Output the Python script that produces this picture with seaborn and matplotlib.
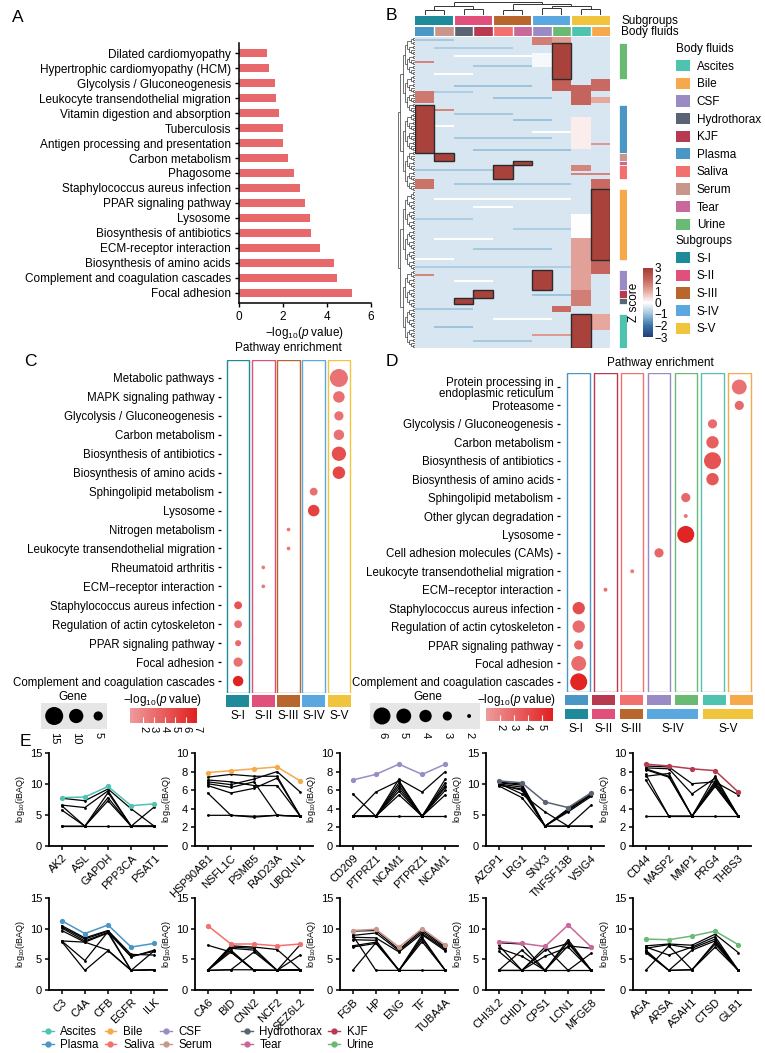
import numpy as np
import pandas as pd
import matplotlib
matplotlib.use("Agg")
import matplotlib.pyplot as plt
import seaborn as sns
from matplotlib.colors import LinearSegmentedColormap, ListedColormap, Normalize
from matplotlib.patches import Rectangle, Patch
from matplotlib.lines import Line2D
from matplotlib.collections import LineCollection
import matplotlib.cm as cm

plt.rcParams['font.family'] = ['Liberation Sans', 'DejaVu Sans']
plt.rcParams['mathtext.fontset'] = 'custom'
plt.rcParams['mathtext.rm'] = 'Liberation Sans'
plt.rcParams['mathtext.it'] = 'Liberation Sans:italic'
plt.rcParams['axes.unicode_minus'] = True

# ------------------------------------------------------------------ data
A_terms = ['Dilated cardiomyopathy', 'Hypertrophic cardiomyopathy (HCM)',
           'Glycolysis / Gluconeogenesis', 'Leukocyte transendothelial migration',
           'Vitamin digestion and absorption', 'Tuberculosis',
           'Antigen processing and presentation', 'Carbon metabolism', 'Phagosome',
           'Staphylococcus aureus infection', 'PPAR signaling pathway', 'Lysosome',
           'Biosynthesis of antibiotics', 'ECM-receptor interaction',
           'Biosynthesis of amino acids', 'Complement and coagulation cascades',
           'Focal adhesion']
A_vals = [1.27, 1.37, 1.64, 1.68, 1.80, 2.00, 2.00, 2.23, 2.49, 2.75, 2.98, 3.21,
          3.28, 3.66, 4.31, 4.46, 5.12]

fluids = ['Ascites', 'Bile', 'CSF', 'Hydrothorax', 'KJF', 'Plasma', 'Saliva',
          'Serum', 'Tear', 'Urine']
fluid_colors = ['#4DC3B0', '#F5A94B', '#9B8BC4', '#5A6473', '#B73A50', '#4A96C4',
                '#F2706E', '#C9968B', '#C9689A', '#6BBA74']
subgroups = ['S-I', 'S-II', 'S-III', 'S-IV', 'S-V']
sub_colors = ['#1F8A99', '#E0507A', '#B8652E', '#5BA8E0', '#F0C43C']

B_col_fluids = ['Plasma', 'Serum', 'Hydrothorax', 'KJF', 'Saliva', 'Tear', 'CSF',
                'Urine', 'Ascites', 'Bile']
B_col_subs = ['S-I', 'S-I', 'S-II', 'S-II', 'S-III', 'S-III', 'S-IV', 'S-IV',
              'S-V', 'S-V']
B_nrows = 155
B_background = -0.42
# fluid-specific protein blocks: (column, first row, end row)
B_marked = [(7, 3, 21), (0, 34, 58), (1, 58, 62), (5, 62, 64), (4, 64, 71),
            (9, 76, 111), (6, 116, 126), (3, 126, 130), (2, 130, 133), (8, 138, 155)]
B_marked_z = 2.8
# other coloured regions: (column, first row, end row, z)
B_regions = [(6, 0, 4, 1.6), (7, 0, 3, 1.2), (7, 21, 27, 2.1), (9, 21, 27, 1.9),
             (8, 24, 34, 2.0), (0, 27, 33, 1.7), (9, 30, 33, 1.0), (8, 40, 56, 0.2),
             (0, 71, 76, 1.8), (9, 71, 76, 1.9), (8, 64, 67, 1.5), (8, 88, 100, 0.0),
             (8, 100, 126, 1.1), (9, 111, 118, 2.0), (8, 126, 134, 1.6),
             (7, 134, 137, 1.9), (9, 138, 146, 1.0), (6, 8, 15, -0.1)]
# single-row stripes: (row, first column, end column, z)
B_stripes = [(1, 0, 2, -0.9), (5, 1, 5, -0.8), (9, 2, 6, 0.0), (12, 0, 1, 1.5),
             (14, 3, 7, -0.9), (18, 1, 3, 0.0), (24, 2, 6, -1.0), (27, 1, 3, -0.8),
             (30, 4, 7, -1.0), (36, 1, 2, 1.5), (38, 2, 5, -0.9), (41, 5, 7, -1.0),
             (44, 1, 2, 0.0), (47, 6, 8, 0.0), (50, 2, 7, -0.9), (53, 8, 10, 1.2),
             (56, 3, 8, -1.0), (66, 0, 4, -0.9), (68, 8, 10, 1.5), (73, 2, 8, -0.9),
             (80, 1, 8, 0.0), (84, 3, 5, 0.0), (90, 0, 3, -0.8), (95, 5, 8, -0.8),
             (100, 1, 4, 0.0), (105, 3, 7, -0.9), (110, 0, 2, 0.0), (114, 0, 9, -0.8),
             (118, 0, 1, 1.5), (121, 2, 4, 0.0), (128, 6, 8, -1.0), (135, 0, 3, -0.9),
             (140, 4, 7, 0.0), (144, 1, 3, -1.0), (148, 6, 8, 1.2), (151, 3, 6, -0.9)]
# column dendrogram merges (scipy style: leaves 0-9, new nodes 10...)
B_col_link = [(0, 1, 0.35), (2, 3, 0.45), (10, 11, 0.7), (4, 5, 0.4), (6, 7, 0.55),
              (8, 9, 0.45), (14, 15, 0.65), (13, 16, 0.8), (12, 17, 1.0)]

C_terms = ['Metabolic pathways', 'MAPK signaling pathway', 'Glycolysis / Gluconeogenesis',
           'Carbon metabolism', 'Biosynthesis of antibiotics', 'Biosynthesis of amino acids',
           'Sphingolipid metabolism', 'Lysosome', 'Nitrogen metabolism',
           'Leukocyte transendothelial migration', 'Rheumatoid arthritis',
           'ECM\u2212receptor interaction', 'Staphylococcus aureus infection',
           'Regulation of actin cytoskeleton', 'PPAR signaling pathway', 'Focal adhesion',
           'Complement and coagulation cascades']
C_group = ['S-V', 'S-V', 'S-V', 'S-V', 'S-V', 'S-V', 'S-IV', 'S-IV', 'S-III', 'S-III',
           'S-II', 'S-II', 'S-I', 'S-I', 'S-I', 'S-I', 'S-I']
C_genes = [15, 7, 5, 6, 10, 8, 4, 7, 2, 2, 2, 2, 4, 4, 3, 5, 6]
C_logp = [2.8, 3.0, 2.9, 2.9, 4.6, 5.0, 3.0, 5.3, 2.6, 2.6, 2.5, 2.5, 4.3, 3.0, 3.2, 2.9, 6.9]

D_terms = ['Protein processing in\nendoplasmic reticulum', 'Proteasome',
           'Glycolysis / Gluconeogenesis', 'Carbon metabolism', 'Biosynthesis of antibiotics',
           'Biosynthesis of amino acids', 'Sphingolipid metabolism', 'Other glycan degradation',
           'Lysosome', 'Cell adhesion molecules (CAMs)', 'Leukocyte transendothelial migration',
           'ECM\u2212receptor interaction', 'Staphylococcus aureus infection',
           'Regulation of actin cytoskeleton', 'PPAR signaling pathway', 'Focal adhesion',
           'Complement and coagulation cascades']
D_col_fluids = ['Plasma', 'KJF', 'Saliva', 'CSF', 'Urine', 'Ascites', 'Bile']
D_col_subs = ['S-I', 'S-II', 'S-III', 'S-IV', 'S-IV', 'S-V', 'S-V']
D_fluid = ['Bile', 'Bile', 'Ascites', 'Ascites', 'Ascites', 'Ascites', 'Urine', 'Urine',
           'Urine', 'CSF', 'Saliva', 'KJF', 'Plasma', 'Plasma', 'Plasma', 'Plasma', 'Plasma']
D_genes = [5, 3, 3, 4, 6, 4, 3, 2, 6, 3, 2, 2, 4, 4, 3, 5, 6]
D_logp = [2.6, 3.0, 2.8, 3.3, 3.8, 3.6, 3.0, 2.5, 5.6, 3.0, 2.2, 2.6, 4.0, 2.8, 3.0, 2.8, 5.6]

E_genes = [['AK2', 'ASL', 'GAPDH', 'PPP3CA', 'PSAT1'],
           ['HSP90AB1', 'NSFL1C', 'PSMB5', 'RAD23A', 'UBQLN1'],
           ['CD209', 'PTPRZ1', 'NCAM1', 'PTPRZ1', 'NCAM1'],
           ['AZGP1', 'LRG1', 'SNX3', 'TNFSF13B', 'VSIG4'],
           ['CD44', 'MASP2', 'MMP1', 'PRG4', 'THBS3'],
           ['C3', 'C4A', 'CFB', 'EGFR', 'ILK'],
           ['CA6', 'BID', 'CNN2', 'NCF2', 'SEZ6L2'],
           ['FGB', 'HP', 'ENG', 'TF', 'TUBA4A'],
           ['CHI3L2', 'CHID1', 'CPS1', 'LCN1', 'MFGE8'],
           ['AGA', 'ARSA', 'ASAH1', 'CTSD', 'GLB1']]
E_fluid = ['Ascites', 'Bile', 'CSF', 'Hydrothorax', 'KJF', 'Plasma', 'Saliva', 'Serum',
           'Tear', 'Urine']
E_ymax = [15, 10, 10, 15, 10, 15, 15, 15, 15, 15]
E_main = [[7.8, 7.9, 9.6, 6.5, 6.8],
          [7.9, 8.1, 8.3, 8.5, 7.0],
          [7.1, 7.7, 8.8, 7.7, 8.8],
          [10.5, 10.2, 7.1, 6.2, 8.6],
          [8.8, 8.6, 8.3, 8.1, 5.8],
          [11.3, 9.2, 10.6, 7.0, 7.6],
          [10.5, 7.5, 7.5, 7.2, 7.5],
          [9.7, 9.9, 7.0, 10.0, 7.3],
          [7.9, 7.6, 7.1, 10.6, 7.0],
          [8.3, 8.2, 8.8, 9.6, 7.4]]
E_other = [
    [[7.7, 7.3, 9.2, 6.0, 3.2], [6.6, 6.2, 8.9, 3.2, 6.3], [6.5, 3.2, 8.6, 3.2, 3.2],
     [5.8, 3.2, 7.8, 3.2, 3.2], [3.2, 3.2, 7.3, 3.2, 3.2], [3.2, 3.2, 3.2, 3.2, 3.2]],
    [[7.4, 7.7, 7.5, 7.5, 3.2], [7.1, 6.9, 6.5, 6.5, 3.2], [6.9, 6.6, 7.2, 8.0, 5.8],
     [6.7, 6.3, 6.9, 3.3, 3.2], [6.5, 5.7, 6.2, 7.3, 3.2], [5.7, 3.3, 3.2, 3.3, 3.2],
     [3.3, 3.3, 3.1, 3.3, 3.2]],
    [[5.6, 3.2, 7.2, 5.8, 8.0], [3.2, 5.8, 7.0, 3.2, 7.2], [3.2, 3.2, 6.8, 3.2, 6.8],
     [3.2, 3.2, 6.5, 3.2, 6.5], [3.2, 3.2, 6.2, 3.2, 6.3], [3.2, 3.2, 5.9, 3.2, 6.0],
     [3.2, 3.2, 5.5, 3.2, 5.5], [3.2, 3.2, 3.2, 3.2, 3.2]],
    [[10.3, 10.0, 3.2, 6.0, 8.4], [10.2, 9.8, 3.2, 5.8, 8.2], [10.0, 9.5, 3.2, 5.5, 8.0],
     [9.9, 9.0, 3.2, 5.7, 8.3], [9.7, 7.8, 3.2, 3.2, 6.6], [10.1, 8.4, 5.5, 3.2, 3.2],
     [9.8, 9.2, 3.2, 3.2, 3.2]],
    [[8.6, 8.5, 6.7, 6.9, 5.5], [8.4, 8.3, 5.6, 7.3, 3.2], [8.3, 7.5, 3.2, 7.0, 3.2],
     [8.2, 7.4, 3.2, 6.8, 3.2], [7.7, 3.2, 3.2, 6.6, 3.2], [7.5, 7.8, 3.2, 7.5, 3.2],
     [7.1, 3.2, 3.2, 6.4, 3.2], [3.2, 3.2, 3.2, 3.2, 3.2]],
    [[10.5, 8.5, 9.7, 5.8, 5.7], [10.3, 8.3, 9.6, 5.5, 6.3], [10.1, 8.0, 9.4, 5.4, 6.5],
     [9.7, 7.8, 9.3, 3.2, 6.4], [8.0, 7.8, 6.5, 3.2, 3.3], [8.0, 4.8, 9.5, 3.2, 3.3],
     [7.9, 3.2, 6.4, 3.2, 3.3]],
    [[7.3, 6.2, 3.2, 3.2, 3.3], [3.2, 7.2, 7.0, 6.6, 3.3], [3.2, 7.0, 6.8, 3.2, 7.4],
     [3.2, 6.8, 6.5, 3.2, 5.7], [3.2, 6.5, 3.2, 3.2, 3.3], [3.2, 6.2, 3.2, 3.2, 3.3],
     [3.2, 3.3, 6.2, 3.2, 3.3], [3.2, 3.3, 3.3, 3.2, 3.3]],
    [[9.6, 9.7, 6.6, 9.8, 7.0], [8.9, 9.3, 6.4, 9.5, 6.8], [8.6, 8.5, 6.2, 9.2, 6.6],
     [8.2, 8.1, 3.2, 9.0, 6.4], [7.2, 7.8, 3.2, 8.6, 3.2], [7.0, 7.6, 3.2, 8.3, 3.2],
     [3.2, 7.7, 3.2, 7.9, 3.2], [8.9, 3.2, 3.2, 3.2, 3.2]],
    [[7.7, 7.5, 3.2, 8.2, 3.2], [7.3, 3.2, 6.5, 7.6, 3.2], [6.8, 5.5, 3.2, 7.2, 6.8],
     [6.3, 3.2, 7.0, 3.2, 6.0], [3.2, 6.5, 3.2, 7.8, 3.2], [3.2, 3.2, 5.5, 7.0, 3.2],
     [3.2, 3.2, 3.2, 3.2, 3.2]],
    [[7.2, 7.5, 7.3, 9.1, 6.1], [7.0, 5.7, 7.0, 8.7, 3.2], [6.8, 7.4, 6.8, 8.3, 3.2],
     [6.5, 3.2, 6.5, 8.0, 3.2], [6.3, 3.2, 3.3, 7.8, 3.2], [6.1, 3.2, 3.3, 7.5, 3.2],
     [3.2, 7.2, 3.3, 7.0, 3.2]],
]

# ------------------------------------------------------------------ figure
W, H = 765, 1053
fig = plt.figure(figsize=(W / 100, H / 100), dpi=100)
fcol = dict(zip(fluids, fluid_colors))
scol = dict(zip(subgroups, sub_colors))


def pax(x0, y0, x1, y1):
    return fig.add_axes([x0 / W, 1 - y1 / H, (x1 - x0) / W, (y1 - y0) / H])


def ftext(x, y, s, **kw):
    return fig.text(x / W, 1 - y / H, s, **kw)


PL = '\u2212log$_{10}$($\\mathit{p}$ value)'

# panel letters
for lab, (x, y) in zip('ABCDE', [(12, 18), (386, 16), (24, 362), (386, 362), (20, 742)]):
    ftext(x, y, lab, fontsize=12.5, va='center', ha='left')

# ------------------------------------------------------------------ A
axA = pax(239, 43, 371, 303)
dfA = pd.DataFrame({'term': A_terms, 'val': A_vals})
sns.barplot(data=dfA, x='val', y='term', color='#E8696B', saturation=1, width=0.55, ax=axA)
axA.set_xlim(0, 6)
axA.set_xticks([0, 2, 4, 6])
axA.set_ylim(16.67, -0.67)
axA.set_ylabel('')
axA.set_xlabel(PL, fontsize=8.5, labelpad=1)
for s in ['top', 'right']:
    axA.spines[s].set_visible(False)
for s in ['left', 'bottom']:
    axA.spines[s].set_linewidth(1.1)
axA.tick_params(length=3, width=1, labelsize=8.5, pad=3)

# ------------------------------------------------------------------ B
Z = np.full((B_nrows, 10), B_background)
for r, c0, c1, z in B_stripes:
    Z[r, c0:c1] = z
for c, r0, r1, z in B_regions:
    Z[r0:r1, c] = z
for c, r0, r1 in B_marked:
    Z[r0:r1, c] = B_marked_z

heat_cmap = LinearSegmentedColormap.from_list(
    'z', [(0, '#213F78'), (1 / 6, '#3B73A6'), (2 / 6, '#9DC3DD'), (0.5, '#FFFFFF'),
          (4 / 6, '#E5A79E'), (5 / 6, '#C5655C'), (1, '#A43A35')])
axH = pax(415, 37, 610, 348)
axCb = pax(643, 268, 653, 337)
sns.heatmap(Z, cmap=heat_cmap, vmin=-3, vmax=3, ax=axH, cbar_ax=axCb,
            xticklabels=False, yticklabels=False)
for c, r0, r1 in B_marked:
    axH.add_patch(Rectangle((c, r0), 1, r1 - r0, fill=False, ec='#2b2b2b', lw=1.0))
cb = axH.collections[0].colorbar
cb.set_ticks([-3, -2, -1, 0, 1, 2, 3])
cb.set_ticklabels(['\u22123', '\u22122', '\u22121', '0', '1', '2', '3'])
cb.ax.tick_params(labelsize=8.5, length=0, pad=1)
cb.outline.set_visible(False)
cb.ax.yaxis.set_label_position('left')
cb.set_label('Z score', fontsize=8.5, labelpad=2)

# column annotations
axSub = pax(415, 16, 610, 25)
sns.heatmap(np.array([[subgroups.index(s) for s in B_col_subs]]),
            cmap=ListedColormap(sub_colors), vmin=-0.5, vmax=4.5, cbar=False, ax=axSub,
            xticklabels=False, yticklabels=False)
for i in range(1, 10):
    if B_col_subs[i] != B_col_subs[i - 1]:
        axSub.axvline(i, color='white', lw=1.5)
axFl = pax(415, 27, 610, 36)
sns.heatmap(np.array([[fluids.index(f) for f in B_col_fluids]]),
            cmap=ListedColormap(fluid_colors), vmin=-0.5, vmax=9.5, cbar=False, ax=axFl,
            xticklabels=False, yticklabels=False)
for i in range(1, 10):
    axFl.axvline(i, color='white', lw=1.0)
ftext(621, 21, 'Subgroups', fontsize=8.5, va='center')
ftext(621, 32, 'Body fluids', fontsize=8.5, va='center')

# column dendrogram
axCD = pax(415, 1, 610, 15)
nodes = {i: (i + 0.5, 0.0) for i in range(10)}
segs = []
for k, (a, b, h) in enumerate(B_col_link):
    xa, ha = nodes[a]
    xb, hb = nodes[b]
    segs += [[(xa, ha), (xa, h)], [(xa, h), (xb, h)], [(xb, h), (xb, hb)]]
    nodes[10 + k] = ((xa + xb) / 2, h)
axCD.add_collection(LineCollection(segs, colors='#333333', linewidths=0.7))
axCD.set_xlim(0, 10)
axCD.set_ylim(0, 1.05)
axCD.axis('off')

# row dendrogram
axRD = pax(398, 37, 415, 348)
rsegs = []


def build(lo, hi):
    if hi - lo == 1:
        return lo + 0.5, 0.0
    mid = (lo + hi) // 2
    ca, ha = build(lo, mid)
    cbb, hb = build(mid, hi)
    h = max(ha, hb) + 1
    rsegs.extend([[(ha, ca), (h, ca)], [(hb, cbb), (h, cbb)], [(h, ca), (h, cbb)]])
    return (ca + cbb) / 2, h


_, hroot = build(0, B_nrows)
axRD.add_collection(LineCollection(rsegs, colors='#222222', linewidths=0.45))
axRD.set_xlim(hroot + 0.2, 0)
axRD.set_ylim(B_nrows, 0)
axRD.axis('off')

# row annotation
axRA = pax(619, 37, 627, 348)
for c, r0, r1 in B_marked:
    axRA.bar(0.5, r1 - r0, bottom=r0, width=1, color=fcol[B_col_fluids[c]],
             edgecolor='white', linewidth=0.5)
axRA.set_xlim(0, 1)
axRA.set_ylim(B_nrows, 0)
axRA.axis('off')

# legends B
hf = [Patch(facecolor=fcol[f], edgecolor='none') for f in fluids]
hs = [Patch(facecolor=scol[s], edgecolor='none') for s in subgroups]
lkw = dict(loc='upper left', frameon=False, fontsize=8.5, title_fontsize=8.5,
           handlelength=1.15, handleheight=1.1, labelspacing=0.42, borderpad=0,
           borderaxespad=0, handletextpad=0.6, alignment='left')
fig.legend(hf, fluids, title='Body fluids', bbox_to_anchor=(676 / W, 1 - 43 / H), **lkw)
fig.legend(hs, subgroups, title='Subgroups', bbox_to_anchor=(676 / W, 1 - 235 / H), **lkw)

# ------------------------------------------------------------------ C / D dot plots
dot_cmap = LinearSegmentedColormap.from_list('p', ['#EE9A9C', '#E0201F'])


def dotpanel(ax, terms, xs, genes, logp, ncol, box_colors, width, sizes, snorm, hnorm, ylim):
    df = pd.DataFrame({'gx': xs, 'yi': range(len(terms)), 'genes': genes, 'logp': logp})
    for s in ax.spines.values():
        s.set_visible(False)
    ax.spines['left'].set_position(('outward', 3))
    ax.bar(range(ncol), height=ylim[0] - ylim[1] - 0.04, bottom=ylim[1] + 0.02, width=width,
           fill=False, edgecolor=box_colors, linewidth=1.0)
    sns.scatterplot(data=df, x='gx', y='yi', size='genes', sizes=sizes, size_norm=snorm,
                    hue='logp', hue_norm=hnorm, palette=dot_cmap, legend=False, ax=ax,
                    linewidth=0, alpha=1)
    ax.set_xlim(-0.5 - (1 - width) / 2 + 0.03, ncol - 0.5 + (1 - width) / 2 - 0.03)
    ax.set_ylim(*ylim)
    ax.set_yticks(range(len(terms)))
    ax.set_yticklabels(terms, linespacing=0.95)
    ax.set_xticks([])
    ax.set_xlabel('')
    ax.set_ylabel('')
    ax.tick_params(axis='y', length=2.5, width=0.9, pad=2, left=True, labelsize=8.3)


C_sizes, C_snorm, C_hnorm = (7, 168), (2, 15), (0.8, 7.0)
D_sizes, D_snorm, D_hnorm = (8, 150), (2, 6), (1.0, 5.8)

axC = pax(225, 360, 352, 693)
dotpanel(axC, C_terms, [subgroups.index(g) for g in C_group], C_genes, C_logp, 5,
         sub_colors, 0.9, C_sizes, C_snorm, C_hnorm, (16.63, -0.95))
axD = pax(564, 373, 754, 692)
dotpanel(axD, D_terms, [D_col_fluids.index(f) for f in D_fluid], D_genes, D_logp, 7,
         [fcol[f] for f in D_col_fluids], 0.84, D_sizes, D_snorm, D_hnorm, (16.55, -0.76))
ftext(288, 348, 'Pathway enrichment', fontsize=8.5, ha='center', va='center')
ftext(660, 363, 'Pathway enrichment', fontsize=8.5, ha='center', va='center')

# C group bars
axCg = pax(225, 695, 352, 707)
axCg.bar(range(5), 1, width=0.9, color=sub_colors)
axCg.set_xlim(-0.5, 4.5)
axCg.set_ylim(0, 1)
axCg.set_xticks(range(5))
axCg.set_xticklabels(subgroups, fontsize=8.5)
axCg.set_yticks([])
axCg.tick_params(length=0, pad=2)
for s in axCg.spines.values():
    s.set_visible(False)

# D fluid + subgroup bars
axDf = pax(564, 695, 754, 705)
axDf.bar(range(7), 1, width=0.84, color=[fcol[f] for f in D_col_fluids])
axDf.set_xlim(-0.45, 6.45)
axDf.set_ylim(0, 1)
axDf.axis('off')
axDs = pax(564, 709, 754, 719)
sub_pos, sub_w = [], []
for s in subgroups:
    idx = [i for i, g in enumerate(D_col_subs) if g == s]
    sub_pos.append(np.mean(idx))
    sub_w.append(max(idx) - min(idx) + 0.84)
axDs.bar(sub_pos, 1, width=sub_w, color=sub_colors)
axDs.set_xlim(-0.45, 6.45)
axDs.set_ylim(0, 1)
axDs.set_xticks(sub_pos)
axDs.set_xticklabels(subgroups, fontsize=8.5)
axDs.set_yticks([])
axDs.tick_params(length=0, pad=3)
for s in axDs.spines.values():
    s.set_visible(False)


def gene_legend(ax, vals, sizes, snorm, xlim, title_xy):
    df = pd.DataFrame({'x': range(len(vals)), 'y': 0, 'g': vals})
    ax.set_facecolor('#E6E6E6')
    sns.scatterplot(data=df, x='x', y='y', size='g', sizes=sizes, size_norm=snorm,
                    color='black', linewidth=0, legend=False, ax=ax)
    ax.set_xlim(*xlim)
    ax.set_ylim(-1, 1)
    ax.set_xticks(range(len(vals)))
    ax.set_xticklabels([str(v) for v in vals], rotation=-90, fontsize=8)
    ax.set_yticks([])
    ax.set_xlabel('')
    ax.set_ylabel('')
    ax.tick_params(length=0, pad=2)
    for s in ax.spines.values():
        s.set_visible(False)
    ftext(title_xy[0], title_xy[1], 'Gene', fontsize=8.5, ha='center', va='center')


def p_colorbar(ax, norm, ticks, title_xy):
    sm = cm.ScalarMappable(norm=norm, cmap=dot_cmap)
    cbx = fig.colorbar(sm, cax=ax, orientation='horizontal')
    cbx.set_ticks(ticks)
    cbx.set_ticklabels([str(t) for t in ticks])
    cbx.outline.set_visible(False)
    ax.tick_params(axis='x', direction='in', color='white', length=4, width=0.8,
                   labelsize=8, pad=2, labelrotation=-90)
    ftext(title_xy[0], title_xy[1], PL, fontsize=8.5, ha='center', va='center')


gene_legend(pax(41, 703, 107, 729), [15, 10, 5], C_sizes, C_snorm, (-0.6, 2.4), (73, 697))
p_colorbar(pax(130, 708, 197, 723), Normalize(*C_hnorm), [2, 3, 4, 5, 6, 7], (163, 700))
gene_legend(pax(370, 703, 480, 729), [6, 5, 4, 3, 2], D_sizes, D_snorm, (-0.55, 4.5), (428, 697))
p_colorbar(pax(486, 708, 553, 721), Normalize(*D_hnorm), [2, 3, 4, 5], (517, 700))

# ------------------------------------------------------------------ E
E_left = [49, 195, 340, 486, 633]
E_rows = [(753, 846), (898, 990)]
for k in range(10):
    r, cpos = divmod(k, 5)
    x0 = E_left[cpos]
    y0, y1 = E_rows[r]
    ax = pax(x0, y0, x0 + 118, y1)
    recs = [(li, p, v) for li, line in enumerate(E_other[k]) for p, v in enumerate(line)]
    dfo = pd.DataFrame(recs, columns=['line', 'pos', 'val'])
    sns.lineplot(data=dfo, x='pos', y='val', units='line', estimator=None, color='black',
                 lw=0.9, marker='o', markersize=2, markeredgewidth=0, ax=ax, legend=False)
    dfm = pd.DataFrame({'pos': range(5), 'val': E_main[k]})
    sns.lineplot(data=dfm, x='pos', y='val', color=fcol[E_fluid[k]], lw=1.1, marker='o',
                 markersize=3.8, markeredgewidth=0, ax=ax, legend=False)
    ax.set_xlim(-0.55, 4.55)
    ym = E_ymax[k]
    ax.set_ylim(0, ym)
    ax.set_yticks([0, 5, 10, 15] if ym == 15 else [0, 2, 4, 6, 8, 10])
    ax.set_xticks(range(5))
    ax.set_xticklabels(E_genes[k], rotation=45, ha='right', rotation_mode='anchor', fontsize=8)
    ax.set_xlabel('')
    ax.set_ylabel('log$_{10}$(iBAQ)', fontsize=6.5, labelpad=2)
    for s in ['top', 'right']:
        ax.spines[s].set_visible(False)
    for s in ['left', 'bottom']:
        ax.spines[s].set_linewidth(1.3)
    ax.tick_params(length=3, width=1.1, labelsize=8, pad=2)

# legend E
def lh(f):
    return Line2D([0], [0], color=fcol[f], marker='o', markersize=3.5, lw=1.0)


ekw = dict(loc='upper left', frameon=False, fontsize=8.3, handlelength=1.0,
           handletextpad=0.6, columnspacing=0.5, labelspacing=0.1, borderpad=0,
           borderaxespad=0)
left_set = ['Ascites', 'Plasma', 'Bile', 'Saliva', 'CSF', 'Serum']
right_set = ['Hydrothorax', 'Tear', 'KJF', 'Urine']
fig.legend([lh(f) for f in left_set], left_set, ncol=3,
           bbox_to_anchor=(42 / W, 1 - 1026 / H), **ekw)
fig.legend([lh(f) for f in right_set], right_set, ncol=2,
           bbox_to_anchor=(241 / W, 1 - 1026 / H), **ekw)

fig.savefig('out.png', dpi=100)
